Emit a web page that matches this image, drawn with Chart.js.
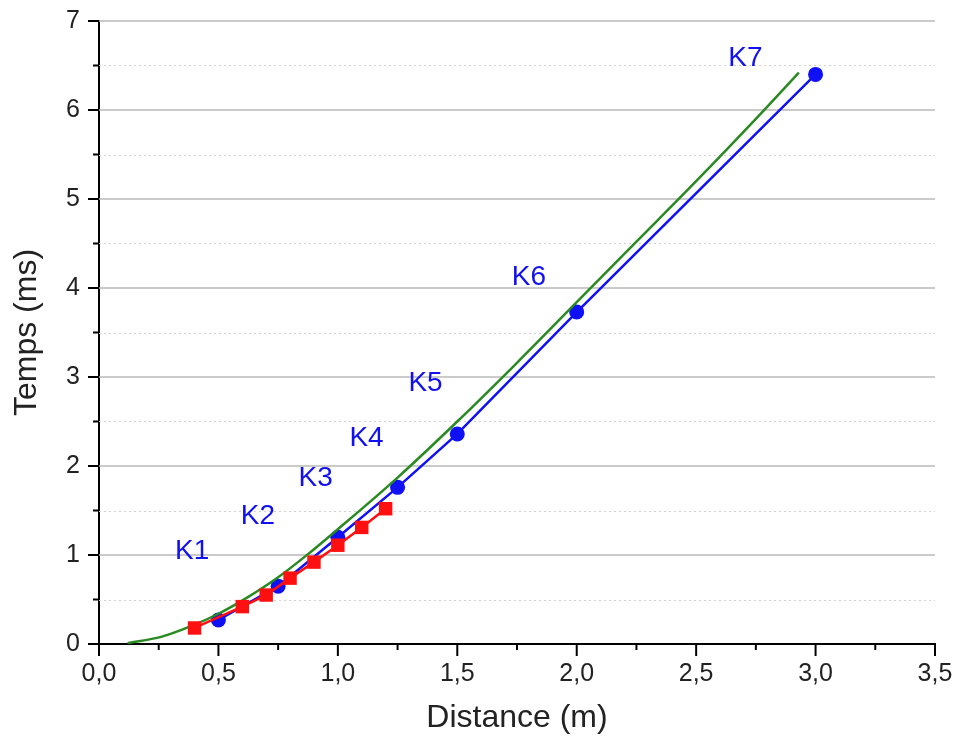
<!DOCTYPE html>
<html>
<head>
<meta charset="utf-8">
<script src="https://cdn.jsdelivr.net/npm/chart.js@4"></script>
<style>
	html, body { margin: 0; padding: 0; background: #fff; }
	#wrap { width: 959px; height: 738px; position: relative; }
</style>
</head>
<body>
<div id="wrap"><canvas id="chart"></canvas></div>
<script>
// measured points (blue circles, red squares)
var blueX = [0.5, 0.75, 1.0, 1.25, 1.5, 2.0, 3.0];
var blueY = [0.27, 0.65, 1.20, 1.76, 2.36, 3.73, 6.40];
var redX = [0.4, 0.6, 0.7, 0.8, 0.9, 1.0, 1.1, 1.2];
var redY = [0.18, 0.42, 0.55, 0.74, 0.92, 1.11, 1.31, 1.52];
// green model curve
var greenX = [0.12, 0.26, 0.385, 0.5, 0.625, 0.75, 0.875, 1.0, 1.25, 1.5, 1.75, 2.0, 2.25, 2.5, 2.75, 2.93];
var greenY = [0.01, 0.08, 0.20, 0.34, 0.53, 0.75, 1.01, 1.29, 1.87, 2.50, 3.16, 3.84, 4.52, 5.20, 5.90, 6.42];
// K labels
var kNames = ["K1", "K2", "K3", "K4", "K5", "K6", "K7"];
var kX = [0.39, 0.665, 0.907, 1.12, 1.367, 1.80, 2.706];
var kY = [1.04, 1.43, 1.86, 2.31, 2.93, 4.12, 6.58];
// axis ticks
var xMajor = [0, 0.5, 1.0, 1.5, 2.0, 2.5, 3.0, 3.5];
var xMinor = [0.25, 0.75, 1.25, 1.75, 2.25, 2.75, 3.25];
var yMajor = [0, 1, 2, 3, 4, 5, 6, 7];
var yMinor = [0.5, 1.5, 2.5, 3.5, 4.5, 5.5, 6.5];

var pts = (xs, ys) => xs.map((x, i) => ({ x: x, y: ys[i] }));

var FONT = "'Liberation Sans', Arial, sans-serif";

var decor = {
	id: "decor",
	beforeDatasetsDraw(chart) {
		var ctx = chart.ctx, a = chart.chartArea, ys = chart.scales.y;
		ctx.save();
		ctx.strokeStyle = "#d2d2d2";
		ctx.lineWidth = 1;
		ctx.setLineDash([2, 3]);
		yMinor.forEach((v) => {
			var py = Math.round(ys.getPixelForValue(v)) + 0.5;
			ctx.beginPath(); ctx.moveTo(a.left, py); ctx.lineTo(a.right, py); ctx.stroke();
		});
		ctx.setLineDash([]);
		ctx.strokeStyle = "#b8b8b8";
		ctx.lineWidth = 1.5;
		yMajor.slice(1).forEach((v) => {
			var py = Math.round(ys.getPixelForValue(v));
			ctx.beginPath(); ctx.moveTo(a.left, py); ctx.lineTo(a.right, py); ctx.stroke();
		});
		ctx.restore();
	},
	afterDraw(chart) {
		var ctx = chart.ctx, a = chart.chartArea, xs = chart.scales.x, ys = chart.scales.y;
		ctx.save();
		ctx.strokeStyle = "#000";
		ctx.lineWidth = 2;
		var tick = (x1, y1, x2, y2) => { ctx.beginPath(); ctx.moveTo(x1, y1); ctx.lineTo(x2, y2); ctx.stroke(); };
		xMajor.forEach((v) => { var px = xs.getPixelForValue(v); tick(px, a.bottom, px, a.bottom + 12); });
		xMinor.forEach((v) => { var px = xs.getPixelForValue(v); tick(px, a.bottom, px, a.bottom + 6); });
		yMajor.forEach((v) => { var py = ys.getPixelForValue(v); tick(a.left, py, a.left - 11, py); });
		yMinor.forEach((v) => { var py = ys.getPixelForValue(v); tick(a.left, py, a.left - 6, py); });

		ctx.fillStyle = "#1010f0";
		ctx.font = "28px " + FONT;
		ctx.textAlign = "center";
		ctx.textBaseline = "middle";
		kNames.forEach((t, i) => {
			ctx.fillText(t, xs.getPixelForValue(kX[i]), ys.getPixelForValue(kY[i]));
		});
		ctx.restore();
	},
};

// hidden tick marks only push the labels away from the axis
var hiddenGrid = (len) => ({
	display: true,
	drawOnChartArea: false,
	drawTicks: true,
	tickLength: len,
	color: "rgba(0,0,0,0)",
	tickColor: "rgba(0,0,0,0)",
});

new Chart(document.getElementById("chart"), {
	type: "scatter",
	data: {
		datasets: [
			{
				label: "red",
				data: pts(redX, redY),
				showLine: true,
				borderColor: "#ff1010",
				backgroundColor: "#ff1010",
				borderWidth: 2.5,
				pointStyle: "rect",
				pointRadius: 9.5,
				pointBorderWidth: 0,
			},
			{
				label: "green",
				data: pts(greenX, greenY),
				showLine: true,
				borderColor: "#2a8a22",
				borderWidth: 2.5,
				pointRadius: 0,
				cubicInterpolationMode: "monotone",
			},
			{
				label: "blue",
				data: pts(blueX, blueY),
				showLine: true,
				borderColor: "#1010f5",
				backgroundColor: "#1010f5",
				borderWidth: 2.5,
				pointRadius: 7.5,
				pointBorderWidth: 0,
			},
		],
	},
	options: {
		responsive: true,
		maintainAspectRatio: false,
		animation: false,
		layout: { padding: { top: 21, right: 24, left: 0, bottom: 0 } },
		plugins: { legend: { display: false }, tooltip: { enabled: false } },
		scales: {
			x: {
				type: "linear",
				min: 0,
				max: 3.5,
				afterFit: (s) => { s.height = 94; },
				grid: hiddenGrid(15),
				border: { display: true, color: "#000", width: 2 },
				ticks: {
					stepSize: 0.5,
					padding: 0,
					color: "#222",
					font: { family: FONT, size: 25 },
					callback: (v) => v.toFixed(1).replace(".", ","),
				},
				title: {
					display: true,
					text: "Distance (m)",
					color: "#222",
					font: { family: FONT, size: 32 },
					padding: { top: 0, bottom: 1 },
				},
			},
			y: {
				type: "linear",
				min: 0,
				max: 7,
				afterFit: (s) => { s.width = 99; },
				grid: hiddenGrid(19),
				border: { display: true, color: "#000", width: 2 },
				ticks: {
					stepSize: 1,
					padding: 0,
					color: "#222",
					font: { family: FONT, size: 25 },
				},
				title: {
					display: true,
					text: "Temps (ms)",
					color: "#222",
					font: { family: FONT, size: 32 },
					padding: { top: 8, bottom: 0 },
				},
			},
		},
	},
	plugins: [decor],
});
</script>
</body>
</html>
